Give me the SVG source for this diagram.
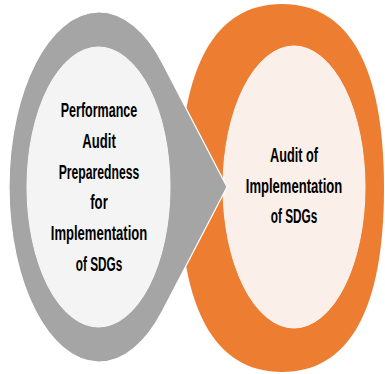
<svg xmlns="http://www.w3.org/2000/svg" width="385" height="374" viewBox="0 0 385 374">
  <style>
    .lbl { font-family: "Liberation Sans", Arial, sans-serif; font-weight: bold; font-size: 19.5px; fill: #000; text-anchor: middle; }
  </style>
  <rect width="385" height="374" fill="#ffffff"/>
  <g id="node-audit">
    <path d="M 384,188 C 384,309.4 349.3,372 282,372 C 214.7,372 180,309.4 180,188 C 180,66.6 214.7,4 282,4 C 349.3,4 384,66.6 384,188 Z" fill="#ED7D31"/>
    <ellipse cx="294" cy="187" rx="71" ry="141" fill="#FBEFE9" stroke="#fdf6f2" stroke-width="1"/>
    <text class="lbl" x="294" y="162" textLength="48" lengthAdjust="spacingAndGlyphs">Audit of</text>
    <text class="lbl" x="294" y="192.7" textLength="96.5" lengthAdjust="spacingAndGlyphs">Implementation</text>
    <text class="lbl" x="294" y="223.3" textLength="46.5" lengthAdjust="spacingAndGlyphs">of SDGs</text>
  </g>
  <g id="node-preparedness">
    <path d="M 227,187 L 162.3,62.6 A 90 175 0 1 0 162.3,311.4 Z" fill="#A5A5A5" stroke="#ffffff" stroke-width="1.2" stroke-linejoin="miter"/>
    <ellipse cx="98.5" cy="187" rx="71.5" ry="140" fill="#F4F4F4" stroke="#f9f9f9" stroke-width="1"/>
    <text class="lbl" x="99" y="117" textLength="76.5" lengthAdjust="spacingAndGlyphs">Performance</text>
    <text class="lbl" x="99" y="148" textLength="33.5" lengthAdjust="spacingAndGlyphs">Audit</text>
    <text class="lbl" x="99" y="178.5" textLength="80.5" lengthAdjust="spacingAndGlyphs">Preparedness</text>
    <text class="lbl" x="99" y="209" textLength="17.5" lengthAdjust="spacingAndGlyphs">for</text>
    <text class="lbl" x="99" y="240" textLength="96.5" lengthAdjust="spacingAndGlyphs">Implementation</text>
    <text class="lbl" x="99" y="270.5" textLength="46.5" lengthAdjust="spacingAndGlyphs">of SDGs</text>
  </g>
  <g id="connectors"></g>
</svg>
